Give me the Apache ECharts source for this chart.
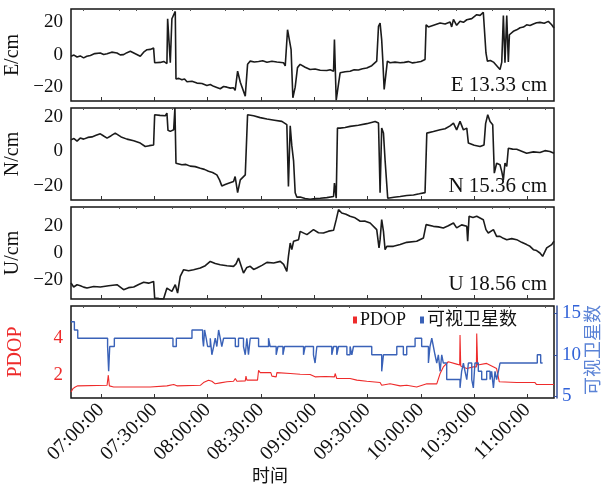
<!DOCTYPE html>
<html>
<head>
<meta charset="utf-8">
<script src="https://cdn.jsdelivr.net/npm/echarts@6/dist/echarts.min.js"></script>
<style>
  html, body { margin: 0; padding: 0; background: #fff; }
  #chart { width: 603px; height: 488px; }
</style>
</head>
<body>
<div id="chart"></div>
<script>
// Time is expressed in minutes after midnight.
const xTickLabels = ['07:00:00','07:30:00','08:00:00','08:30:00','09:00:00','09:30:00','10:00:00','10:30:00','11:00:00'];
const timeStart = 403.1;
const timeEnd = 675.0;

// East offset (cm)
const eastSeries = [
  [403.1,-1],[404.8,-0.3],[406.5,-1.5],[408.3,-0.8],[410.2,-2],[412.0,-1],[414.0,-0.5],[416.5,0.6],[419.6,1],[421.5,0],
  [423.4,0.5],[426.0,1.5],[429.0,1],[430.8,-0.2],[432.7,0],[434.6,1.2],[436.5,2],[439.3,0.5],
  [442.1,-1],[444.0,1.5],[445.9,3],[447.7,3.2],[449.6,4],[450.2,-5],[453.4,-4.8],[455.3,-4.2],[457.1,-5.5],[457.5,22],[458.4,22],[459.0,-5],[459.9,22],
  [460.9,21],[461.8,26.5],[462.2,-15],[463.8,-14.6],[465.5,-15.5],[467.0,-15],[468.4,-16.7],[471.2,-16.4],[474.0,-17.5],[476.8,-17.8],[479.6,-19],[481.5,-18.4],[483.4,-19.5],[485.2,-20.2],[487.1,-21],
  [489.0,-19.6],[490.9,-20],[492.8,-20.6],[494.6,-20.4],[495.5,-22],[496.9,-10.2],[498.4,-17],[501.2,-25.5],[502.5,-6],[504.0,-4],[506.3,-4.6],[508.7,-4.2],
  [511.0,-3.8],[513.4,-4.7],[516.2,-4.1],[519.0,-4.5],[522.7,-5],[523.7,-7],[525.0,15.3],[526.1,16.3],[527.0,3],[528.0,-26.5],[529.3,-20],
  [530.6,-8],[532.1,-6],[534.9,-7.8],[537.7,-9.2],[540.5,-8.8],[543.4,-9.6],[547.1,-9.8],[549.0,-9.3],[550.9,-10.2],[551.4,9.2],[552.4,-28],[553.7,-18],
  [554.6,-11.2],[557.4,-10.5],[560.2,-10.2],[562.5,-9.3],[564.9,-9.5],[567.2,-8.7],[569.6,-8.2],[572.4,-6.8],[575.2,-4],[576.2,17.3],[577.1,19.3],[578.0,9],[578.6,-3],
  [579.4,-21.4],[580.5,-21],[581.2,-4],[582.7,-5],[585.5,-4.6],[588.4,-5],[590.7,-4.8],[593.0,-4.3],[595.4,-5.1],[597.7,-4.7],[600.1,-4.2],[602.4,-3],[603.0,18.3],
  [604.3,17],[607.6,18.2],[610.9,19.4],[613.7,18.8],[616.5,20],[617.4,17],[618.4,21.6],[620.2,18],[622.1,20.5],[624.0,19.8],[625.9,21.4],[628.7,22.1],[631.5,24.5],
  [633.4,24.1],[635.2,26],[636.2,26],[636.7,1],[637.5,-4],[639.2,-3.6],[640.9,-4.6],[644.6,-9.2],[645.6,-4.6],[646.5,24],[647.4,-5],[648.4,24],
  [649.3,-4.6],[649.9,12.2],[652.1,14.3],[654.0,15.2],[655.9,16.5],[657.8,16.9],[659.6,18.3],[661.5,17.9],[663.4,18.8],[665.2,19.6],[667.1,19.8],[669.5,19.3],[671.8,20.4],[673.7,18.3],
  [675.0,16.3]
];

// North offset (cm)
const northSeries = [
  [403.1,6.8],[404.8,7.5],[406.5,6.0],[408.3,7.8],[410.2,7.2],[412.6,8.2],[414.9,8.5],[417.2,9.4],[419.6,10.3],[421.5,9.0],[423.4,7.8],[425.7,9.2],[428.0,10.7],[431.3,8.5],[434.6,7.2],[438.4,6.2],[442.1,4.9],
  [444.9,2.9],[447.2,3.4],[449.6,3.8],[450.2,21.4],[453.2,21.0],[456.2,20.8],[457.1,22.3],[457.7,12.3],[459.0,11.7],[459.9,12.6],[460.9,12.6],
  [461.6,25.3],[462.2,-6.8],[465.5,-7.7],[467.8,-7.5],[470.2,-8.5],[473.0,-8.8],[475.9,-9.7],[478.2,-10.4],[480.5,-11.5],[482.8,-12.2],[485.2,-13.6],[486.7,-16.5],[488.0,-20],
  [489.9,-19.2],[491.8,-18.5],[494.6,-17.5],[495.5,-14.6],[496.9,-23.9],[498.4,-16.5],[501.2,-13.6],[502.5,21.4],[505.9,20.8],[509.6,19.7],
  [513.4,18.9],[517.6,18.2],[521.8,17.5],[524.6,15.6],[525.5,-20.4],[526.5,15],[527.4,3.4],[528.4,-5.5],[529.3,-24],[530.2,-26.5],
  [532.1,-26.5],[534.9,-27.3],[537.7,-27.8],[540.5,-27.4],[543.4,-27.2],[547.1,-26.8],[550.9,-26.2],[551.4,-18.4],[552.4,-27.2],[553.1,13.6],[554.6,13.6],
  [557.4,14.0],[560.2,14.6],[564.9,15.3],[569.6,16.2],[574.3,17.5],[576.2,16.6],[577.1,-24],[578.0,13.6],[579.0,10.7],[579.9,-4.9],[580.9,-5.8],
  [581.4,-27.2],[584.9,-26.6],[588.4,-26.2],[592.1,-25.6],[595.9,-25.3],[599.2,-24.6],[602.4,-23.9],[603.4,10.7],[607.1,11.6],[610.9,12.6],[613.7,13.2],[616.5,14.9],[618.4,16.5],
  [620.2,12.6],[622.1,17.5],[624.0,12.6],[625.9,13.6],[626.8,4.9],[630.1,3.6],[633.4,2.9],[635.6,3.8],[636.5,16.2],[637.7,21.4],
  [639.0,17.5],[640.5,15.6],[641.4,-12.6],[642.7,-6.8],[644.6,-7.7],[645.6,-11.7],[646.5,-16.5],[647.4,-6.8],
  [648.4,-8.7],[649.3,1.9],[651.7,1.4],[654.0,1.3],[656.8,0.2],[659.6,-1],[663.4,-0.2],[667.1,-0.6],[669.9,0.5],[672.7,0],[675.0,-1]
];

// Up offset (cm)
const upSeries = [
  [403.1,-22.5],[404.6,-25.5],[406.5,-23.8],[408.4,-24.5],[410.2,-25.6],[412.1,-26.3],[415.9,-25.1],[419.6,-25.5],[424.3,-24.6],[429.0,-23.8],[432.7,-27.5],[435.5,-26.0],[438.4,-25.5],
  [441.2,-23.6],[444.0,-22],[446.8,-22.6],[449.6,-21.3],[450.2,-33.8],[452.7,-34.2],[455.2,-34.5],[457.1,-26.3],[459.9,-28.8],[461.8,-23.8],[463.1,-30],
  [464.6,-17.5],[466.5,-12.5],[469.3,-13.3],[472.1,-12.5],[475.9,-11.3],[478.7,-9.5],[481.5,-6.3],[484.3,-7.9],[487.1,-8.8],[490.9,-9.6],[494.6,-10],[496.0,-8.2],[497.4,-3.8],
  [500.2,-15],[502.1,-10.8],[504.0,-10],[505.9,-12.3],[507.7,-11.3],[510.6,-9.3],[513.4,-7],[517.2,-7.5],[520.9,-6.3],[522.8,-8.5],[524.6,-13.8],[525.5,-2.5],[526.5,7.5],[527.4,2.5],
  [528.4,8.8],[531.2,10],[532.1,16.2],[535.9,13.8],[539.6,17.5],[542.4,15.2],[545.2,15],[548.1,16.4],[550.9,17],[552.4,25],[553.7,32.5],
  [555.5,30],[557.9,29.1],[560.2,27.5],[563.0,26.4],[565.9,23.8],[568.7,23.9],[571.5,22.5],[575.2,17.5],[576.5,3.8],[577.1,10],[578.0,25],[579.0,16.2],
  [579.9,2.5],[580.9,5],[584.6,5],[588.4,6.4],[592.1,8],[597.7,8.8],[601.5,11.3],[603.0,21.3],[607.1,20],[609.9,19.6],[612.7,18.8],[615.5,20.4],[618.4,22.5],
  [620.2,18.8],[623.0,21.1],[625.9,20],[626.4,8.8],[627.2,27.5],[629.4,26.6],[631.5,27.5],[635.2,25],[636.7,17.5],[638.0,15],[640.9,17.5],
  [642.7,12.5],[644.6,12.5],[646.5,11.0],[648.4,10],[651.2,10.8],[654.0,10],[656.8,8.0],[659.6,6.3],[661.5,5.0],[663.4,2.5],[665.2,1.8],[667.1,0],[668.6,-2.5],[670.9,3.8],
  [673.7,6.3],[675.0,8.8]
];

// Position dilution of precision
const pdopSeries = [
  [403.1,1.09],[404.2,1.27],[405.5,1.36],[406.9,1.42],[423.4,1.45],[424.1,2.0],[424.7,1.42],[427.1,1.36],[447.7,1.36],
  [457.1,1.42],[460.9,1.49],[462.7,1.42],[475.9,1.45],[477.7,1.6],[480.5,1.73],[482.4,1.67],[484.3,1.53],[487.1,1.58],
  [490.9,1.64],[494.6,1.67],[495.6,1.82],[496.5,1.67],[501.2,1.69],[501.6,1.95],[502.1,1.73],[508.1,1.73],[508.7,2.27],
  [509.6,2.14],[515.6,2.14],[516.2,1.95],[518.6,1.91],[519.0,2.14],[526.5,2.09],[532.1,2.05],[537.7,2.04],[540.5,1.91],
  [546.2,1.93],[551.4,1.91],[551.8,2.09],[552.7,1.82],[560.2,1.82],[564.0,1.73],[569.6,1.67],[577.1,1.6],[578.0,1.45],
  [582.7,1.53],[588.4,1.42],[592.1,1.45],[597.7,1.36],[603.4,1.53],[609.0,1.53],[610.9,2.09],[612.7,2.45],[615.5,2.73],
  [620.2,2.6],[621.9,2.55],[622.1,4.18],[622.5,2.5],[625.9,2.36],[629.6,2.45],[631.3,2.45],[631.5,4.27],[632.0,2.55],
  [637.1,2.64],[642.7,2.36],[644.2,1.64],[654.0,1.6],[664.3,1.6],[665.2,1.49],[675.0,1.49]
];

// Number of visible satellites (each value holds until the next time)
const satSeries = [
  [403.1,14],[405.0,13],[406.9,12],[423.7,11],[424.3,8],[424.9,11],[427.5,12],[460.5,11],[462.4,12],[471.2,13],
  [477.2,12],[477.7,11],[478.3,13],[479.2,12],[480.0,11],[481.5,12],[482.4,10],[483.4,11],[484.3,12],[485.2,11],
  [486.2,13],[487.1,12],[488.0,11],[489.0,12],[495.6,11],[497.4,12],[500.2,11],[501.2,10],[502.1,12],[503.0,10],
  [504.0,12],[508.7,11],[514.3,12],[515.2,11],[518.6,10],[519.6,11],[522.4,10],[523.3,11],[534.0,10],[534.9,11],
  [539.6,10],[540.5,9],[541.5,11],[549.9,10],[550.9,11],[552.7,10],[553.7,11],[558.4,10],[560.2,11],[561.2,10],
  [562.1,11],[572.4,10],[578.0,8],[579.0,10],[586.5,11],[590.2,10],[592.1,11],[596.8,12],[600.5,11],[604.3,9],
  [605.2,11],[606.2,12],[607.1,11],[608.0,10],[609.0,9],[609.9,10],[610.9,8],[611.8,10],[612.7,9],[614.6,7],
  [622.1,6],[623.0,8],[624.0,9],[624.9,8],[625.9,7],[626.8,9],[628.7,7],[629.6,6],[630.5,9],[632.4,8],[634.3,7],
  [637.1,8],[639.0,7],[639.9,8],[640.9,6],[641.8,8],[642.7,7],[643.7,8],[644.6,9],[665.6,10],[667.5,9],[668.6,9]
];

const rmsLabels = ['E 13.33 cm', 'N 15.36 cm', 'U 18.56 cm'];
const satAxisName = '可视卫星数';

const toMinutes = s => { const p = s.split(':').map(Number); return p[0] * 60 + p[1] + p[2] / 60; };
const pad = n => String(n).padStart(2, '0');
const toClock = m => pad(Math.floor(m / 60)) + ':' + pad(Math.round(m % 60)) + ':00';
const tickValues = xTickLabels.map(toMinutes);
// minor ticks every ten minutes between the labelled half hours
const minorTickValues = [];
for (let m = Math.ceil(timeStart / 10) * 10; m <= timeEnd; m += 10) {
  if (m % 30 !== 0) minorTickValues.push(m);
}

const serif = "'Liberation Serif', 'Noto Sans CJK SC', serif";
const ink = '#1b1b1b';
const red = '#ee2b2b';
const blue = '#3a62b8';

const gridLeft = 71, gridWidth = 483;
const panels = [
  { top: 9, height: 92 },
  { top: 108, height: 92 },
  { top: 207, height: 92 },
  { top: 306, height: 92 }
];

const grids = panels.map(p => ({
  left: gridLeft, top: p.top, width: gridWidth, height: p.height,
  outerBoundsMode: 'none', containLabel: false,
  show: true, borderColor: '#151515', borderWidth: 1.5, backgroundColor: '#fff'
}));

const majorXAxes = panels.map((p, i) => ({
  type: 'value', gridIndex: i, min: timeStart, max: timeEnd,
  splitLine: { show: false },
  axisLine: { show: false, onZero: false },
  axisTick: { show: true, inside: true, length: 4, customValues: tickValues, lineStyle: { color: '#333' } },
  axisLabel: i === 3 ? {
    show: true, customValues: tickValues, rotate: 45, margin: 9,
    fontFamily: serif, fontSize: 20, color: '#111',
    formatter: v => toClock(v)
  } : { show: false }
}));

const minorXAxes = panels.map((p, i) => ({
  type: 'value', gridIndex: i, min: timeStart, max: timeEnd,
  splitLine: { show: false },
  axisLine: { show: false, onZero: false },
  axisTick: { show: true, inside: true, length: 2, customValues: minorTickValues, lineStyle: { color: '#555' } },
  axisLabel: { show: false }
}));

function leftAxis(gi, name, min, max, ticks, color) {
  return {
    type: 'value', gridIndex: gi, position: 'left', min: min, max: max,
    name: name, nameLocation: 'middle', nameGap: 45, nameRotate: 90,
    nameTextStyle: { fontFamily: serif, fontSize: 20, color: color },
    splitLine: { show: false }, axisLine: { show: false, onZero: false },
    axisTick: { show: false },
    axisLabel: { customValues: ticks, fontFamily: serif, fontSize: 19, color: color, margin: 8,
      formatter: v => (v < 0 ? '\u2212' + Math.abs(v) : String(v)) }
  };
}

const yAxes = [
  leftAxis(0, 'E/cm', -28.5, 28, [-20, 0, 20], '#111'),
  leftAxis(1, 'N/cm', -28.2, 25.3, [-20, 0, 20], '#111'),
  leftAxis(2, 'U/cm', -34.5, 34.5, [-20, 0, 20], '#111'),
  leftAxis(3, 'PDOP', 0.76, 5.76, [2, 4], red),
  {
    type: 'value', gridIndex: 3, position: 'right', min: 4.77, max: 15.9, offset: 3,
    splitLine: { show: false },
    axisLine: { show: true, onZero: false, lineStyle: { color: '#34509c', width: 1.5 } },
    axisTick: { show: true, inside: true, length: 3, customValues: [5, 10, 15], lineStyle: { color: '#34509c' } },
    axisLabel: { customValues: [5, 10, 15], fontFamily: serif, fontSize: 19, color: '#3263d8', margin: 5 }
  }
];

const lineStyle = { color: ink, width: 1.6 };

const option = {
  animation: false,
  backgroundColor: '#fff',
  grid: grids,
  xAxis: majorXAxes.concat(minorXAxes),
  yAxis: yAxes,
  legend: {
    data: ['PDOP', satAxisName],
    left: 348, top: 306, icon: 'rect', itemWidth: 4, itemHeight: 7, itemGap: 14,
    textStyle: { fontFamily: serif, fontSize: 18, color: '#111', padding: [0, 0, 0, -2] }
  },
  series: [
    { name: 'E', type: 'line', xAxisIndex: 0, yAxisIndex: 0, data: eastSeries, showSymbol: false, lineStyle: lineStyle, color: ink },
    { name: 'N', type: 'line', xAxisIndex: 1, yAxisIndex: 1, data: northSeries, showSymbol: false, lineStyle: lineStyle, color: ink },
    { name: 'U', type: 'line', xAxisIndex: 2, yAxisIndex: 2, data: upSeries, showSymbol: false, lineStyle: lineStyle, color: ink },
    { name: satAxisName, type: 'line', xAxisIndex: 3, yAxisIndex: 4, data: satSeries, step: 'end', showSymbol: false,
      lineStyle: { color: blue, width: 1.4 }, color: blue, z: 3 },
    { name: 'PDOP', type: 'line', xAxisIndex: 3, yAxisIndex: 3, data: pdopSeries, showSymbol: false,
      lineStyle: { color: red, width: 1.1 }, color: red, z: 2 }
  ],
  graphic: [
    { type: 'text', right: 603 - 547, top: 75, style: { text: rmsLabels[0], font: "21px 'Liberation Serif', serif", fill: '#111', textAlign: 'right' } },
    { type: 'text', right: 603 - 547, top: 176, style: { text: rmsLabels[1], font: "21px 'Liberation Serif', serif", fill: '#111', textAlign: 'right' } },
    { type: 'text', right: 603 - 547, top: 274, style: { text: rmsLabels[2], font: "21px 'Liberation Serif', serif", fill: '#111', textAlign: 'right' } },
    { type: 'text', left: 252, top: 466, style: { text: '时间', font: "18px 'Noto Sans CJK SC', serif", fill: '#111' } },
    // right-hand axis title, reading upwards
    { type: 'text', x: 592, y: 350, rotation: Math.PI / 2,
      style: { text: satAxisName, font: "18px 'Noto Sans CJK SC', serif", fill: '#5b83d6', align: 'center', verticalAlign: 'middle' } }
  ]
};

const chart = echarts.init(document.getElementById('chart'), null, { renderer: 'canvas' });
chart.setOption(option);
</script>
</body>
</html>
